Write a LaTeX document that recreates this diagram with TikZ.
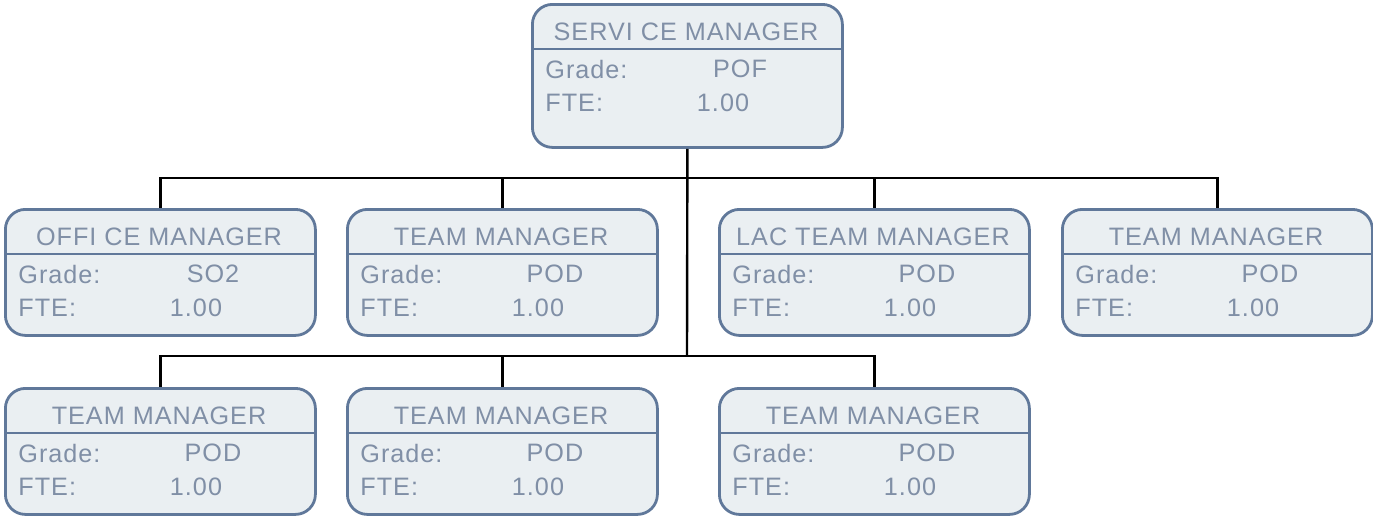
\documentclass[tikz,border=0pt]{standalone}
\usepackage{fontspec}
\setmainfont{Liberation Sans}[LetterSpace=4]
\definecolor{bordc}{RGB}{96,120,154}
\definecolor{fillc}{RGB}{234,239,242}
\definecolor{txtc}{RGB}{128,143,166}
\tikzset{
  obox/.style={draw=bordc, line width=1.4pt, fill=fillc, rounded corners=10pt,
    minimum width=155pt, anchor=north west, inner sep=0pt},
  hdr/.style={draw=bordc, line width=1.2pt},
  otxt/.style={text=txtc, font=\fontsize{12.6}{14}\selectfont, inner sep=0pt},
  conn/.style={draw=black, line width=1.2pt},
}
\newcommand\obox[7]{%
  \node[obox, minimum height=#4] (#1) at (#2,#3) {};
  \draw[hdr] (#2,#3+46) -- (#2+310,#3+46);
  \node[otxt] (#1-t) at (#2+155,#3+29) {#5};
  \node[otxt, anchor=west] (#1-gl) at (#2+14,#3+66) {Grade:};
  \node[otxt] (#1-gv) at (#2+209,#3+66) {#6};
  \node[otxt, anchor=west] (#1-fl) at (#2+14,#3+100) {FTE:};
  \node[otxt] (#1-fv) at (#2+192,#3+100) {#7};
}
\begin{document}
\begin{tikzpicture}[x=0.5pt,y=-0.5pt]
\useasboundingbox (0,0) rectangle (1373,516);
\obox{sm}{531}{3}{71.5pt}{SERVI CE MANAGER}{POF}{1.00}
\obox{om}{4}{208}{63pt}{OFFI CE MANAGER}{SO2}{1.00}
\obox{tm1}{346}{208}{63pt}{TEAM MANAGER}{POD}{1.00}
\obox{lac}{718}{208}{63pt}{LAC TEAM MANAGER}{POD}{1.00}
\obox{tm2}{1061}{208}{63pt}{TEAM MANAGER}{POD}{1.00}
\obox{tm3}{4}{387}{63pt}{TEAM MANAGER}{POD}{1.00}
\obox{tm4}{346}{387}{63pt}{TEAM MANAGER}{POD}{1.00}
\obox{tm5}{718}{387}{63pt}{TEAM MANAGER}{POD}{1.00}
\coordinate (b1) at (687,178);
\coordinate (b2) at (687,356);
\draw[conn] (sm.south) -- (b2);
\draw[conn] (om.north) |- (b1) -| (tm2.north);
\draw[conn] (tm1.north) -- (tm1.north |- b1);
\draw[conn] (lac.north) -- (lac.north |- b1);
\draw[conn] (tm3.north) |- (b2) -| (tm5.north);
\draw[conn] (tm4.north) -- (tm4.north |- b2);
\end{tikzpicture}
\end{document}
